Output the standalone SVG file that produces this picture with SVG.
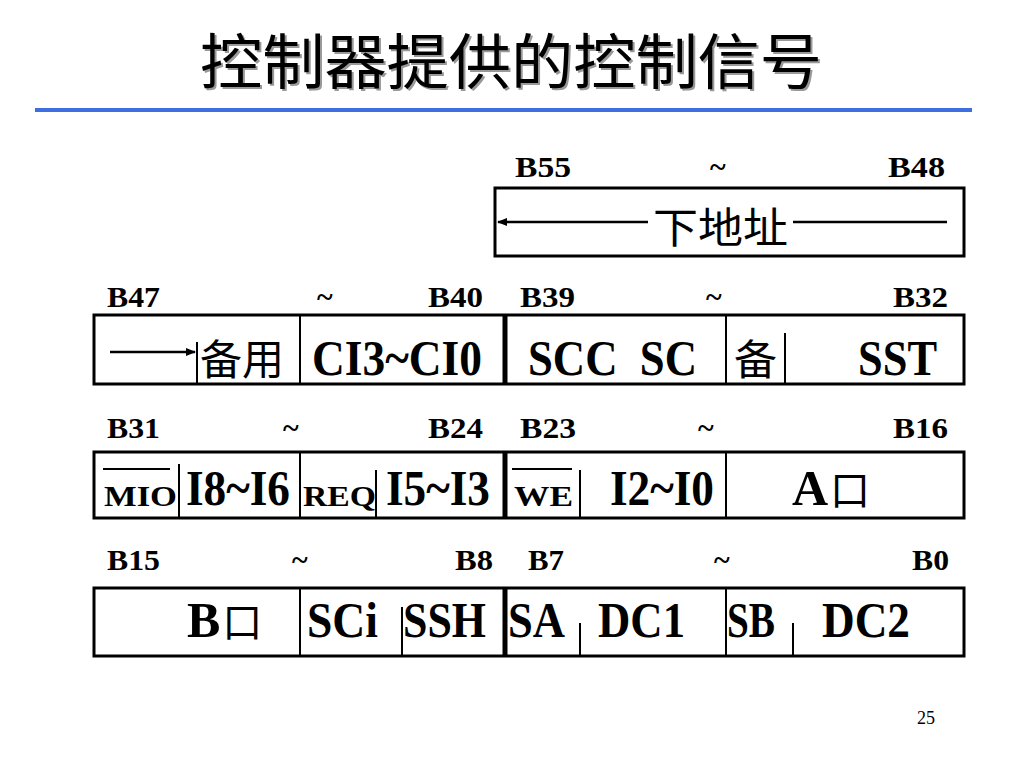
<svg xmlns="http://www.w3.org/2000/svg" width="1024" height="768" viewBox="0 0 1024 768">
<defs>
<style>
.title{font-family:"Noto Sans CJK SC","Noto Sans CJK TC",sans-serif;font-size:60px;}
.lbl{font-family:"Liberation Serif",serif;font-weight:bold;font-size:30px;fill:#000;}
.big{font-family:"Liberation Serif",serif;font-weight:bold;font-size:50px;fill:#000;white-space:pre;}
.sm{font-family:"Liberation Serif",serif;font-weight:bold;font-size:30px;fill:#000;}
.cjk{font-family:"Noto Sans CJK SC",sans-serif;font-size:42px;fill:#000;}
.cjkin{font-family:"Noto Sans CJK SC",sans-serif;font-weight:normal;font-size:40px;}
.box{fill:none;stroke:#000;stroke-width:3;}
.dv{stroke:#000;stroke-width:2;fill:none;}
.thick{stroke:#000;stroke-width:5;fill:none;}
.arr{stroke:#000;stroke-width:2.5;fill:none;}
.num{font-family:"Liberation Serif",serif;font-size:18px;fill:#000;}
</style>
<marker id="ah" viewBox="0 0 10 10" refX="9" refY="5" markerWidth="4" markerHeight="4" orient="auto-start-reverse" markerUnits="strokeWidth">
<path d="M0,1 L10,5 L0,9 z" fill="#000"/>
</marker>
</defs>
<rect width="1024" height="768" fill="#fff"/>

<g id="title">
<text class="title" x="202" y="86" fill="#999" textLength="622" lengthAdjust="spacingAndGlyphs">控制器提供的控制信号</text>
<text class="title" x="200" y="84" fill="#000" textLength="622" lengthAdjust="spacingAndGlyphs">控制器提供的控制信号</text>
<rect x="35" y="108" width="937" height="4" fill="#3f6fdf"/>
</g>

<g id="labels">
<text class="lbl" x="515" y="177" textLength="56" lengthAdjust="spacingAndGlyphs">B55</text>
<text class="lbl" x="710" y="177">~</text>
<text class="lbl" x="888" y="177" textLength="57" lengthAdjust="spacingAndGlyphs">B48</text>

<text class="lbl" x="107" y="307" textLength="53" lengthAdjust="spacingAndGlyphs">B47</text>
<text class="lbl" x="317" y="307">~</text>
<text class="lbl" x="428" y="307" textLength="55" lengthAdjust="spacingAndGlyphs">B40</text>
<text class="lbl" x="520" y="307" textLength="55" lengthAdjust="spacingAndGlyphs">B39</text>
<text class="lbl" x="706" y="307">~</text>
<text class="lbl" x="893" y="307" textLength="55" lengthAdjust="spacingAndGlyphs">B32</text>

<text class="lbl" x="107" y="438" textLength="53" lengthAdjust="spacingAndGlyphs">B31</text>
<text class="lbl" x="283" y="438">~</text>
<text class="lbl" x="428" y="438" textLength="55" lengthAdjust="spacingAndGlyphs">B24</text>
<text class="lbl" x="520" y="438" textLength="56" lengthAdjust="spacingAndGlyphs">B23</text>
<text class="lbl" x="698" y="438">~</text>
<text class="lbl" x="893" y="438" textLength="55" lengthAdjust="spacingAndGlyphs">B16</text>

<text class="lbl" x="107" y="570" textLength="53" lengthAdjust="spacingAndGlyphs">B15</text>
<text class="lbl" x="292" y="570">~</text>
<text class="lbl" x="455" y="570" textLength="38" lengthAdjust="spacingAndGlyphs">B8</text>
<text class="lbl" x="528" y="570" textLength="36" lengthAdjust="spacingAndGlyphs">B7</text>
<text class="lbl" x="714" y="570">~</text>
<text class="lbl" x="912" y="570" textLength="37" lengthAdjust="spacingAndGlyphs">B0</text>
</g>

<g id="next-address">
<rect class="box" x="495" y="188" width="469" height="68"/>
<text class="cjk" x="653" y="243" font-size="45" textLength="135" lengthAdjust="spacingAndGlyphs">下地址</text>
</g>

<g id="row1">
<rect class="box" x="94" y="315" width="870" height="69"/>
<g id="f-spare1">
<line class="dv" x1="197" y1="342" x2="197" y2="384"/>
<text class="cjk" x="200" y="375" textLength="84" lengthAdjust="spacingAndGlyphs">备用</text>
</g>
<g id="f-ci">
<line class="dv" x1="300" y1="315" x2="300" y2="384"/>
<text class="big" x="312" y="375" textLength="170" lengthAdjust="spacingAndGlyphs">CI3~CI0</text>
</g>
<line class="thick" x1="505" y1="315" x2="505" y2="384"/>
<g id="f-scc">
<text class="big" x="528" y="375" textLength="169" lengthAdjust="spacingAndGlyphs">SCC  SC</text>
</g>
<g id="f-spare2">
<line class="dv" x1="726" y1="315" x2="726" y2="384"/>
<text class="cjk" x="734" y="375" textLength="43" lengthAdjust="spacingAndGlyphs">备</text>
<line class="dv" x1="785" y1="333" x2="785" y2="384"/>
</g>
<g id="f-sst">
<text class="big" x="858" y="375" textLength="79" lengthAdjust="spacingAndGlyphs">SST</text>
</g>
</g>

<g id="row2">
<rect class="box" x="94" y="452" width="870" height="66"/>
<g id="f-mio">
<line x1="103" y1="469" x2="170" y2="469" stroke="#000" stroke-width="2"/>
<text class="sm" x="104" y="506" textLength="73" lengthAdjust="spacingAndGlyphs">MIO</text>
<line class="dv" x1="179" y1="464" x2="179" y2="518"/>
</g>
<g id="f-i86">
<text class="big" x="186" y="505" textLength="104" lengthAdjust="spacingAndGlyphs">I8~I6</text>
</g>
<line class="dv" x1="300" y1="452" x2="300" y2="518"/>
<g id="f-req">
<text class="sm" x="303" y="506" textLength="73" lengthAdjust="spacingAndGlyphs">REQ</text>
<line class="dv" x1="376" y1="470" x2="376" y2="518"/>
</g>
<g id="f-i53">
<text class="big" x="386" y="505" textLength="104" lengthAdjust="spacingAndGlyphs">I5~I3</text>
</g>
<line class="thick" x1="505" y1="452" x2="505" y2="518"/>
<g id="f-we">
<line x1="512" y1="469" x2="572" y2="469" stroke="#000" stroke-width="2"/>
<text class="sm" x="514" y="506" textLength="59" lengthAdjust="spacingAndGlyphs">WE</text>
<line class="dv" x1="580" y1="470" x2="580" y2="518"/>
</g>
<g id="f-i20">
<text class="big" x="610" y="505" textLength="104" lengthAdjust="spacingAndGlyphs">I2~I0</text>
</g>
<line class="dv" x1="726" y1="452" x2="726" y2="518"/>
<g id="f-a">
<text class="big" x="792" y="505" font-size="46">A<tspan class="cjkin" dx="2">口</tspan></text>
</g>
</g>

<g id="row3">
<rect class="box" x="94" y="588" width="870" height="68"/>
<g id="f-b">
<text class="big" x="187" y="637" font-size="46">B<tspan class="cjkin" dx="2">口</tspan></text>
</g>
<line class="dv" x1="300" y1="588" x2="300" y2="656"/>
<g id="f-sci">
<text class="big" x="307" y="637" textLength="71" lengthAdjust="spacingAndGlyphs">SCi</text>
</g>
<g id="f-ssh">
<line class="dv" x1="402" y1="607" x2="402" y2="656"/>
<text class="big" x="403" y="637" textLength="83" lengthAdjust="spacingAndGlyphs">SSH</text>
</g>
<line class="thick" x1="505" y1="588" x2="505" y2="656"/>
<g id="f-sa">
<text class="big" x="508" y="637" textLength="57" lengthAdjust="spacingAndGlyphs">SA</text>
<line class="dv" x1="580" y1="623" x2="580" y2="656"/>
</g>
<g id="f-dc1">
<text class="big" x="598" y="637" textLength="87" lengthAdjust="spacingAndGlyphs">DC1</text>
</g>
<line class="dv" x1="726" y1="588" x2="726" y2="656"/>
<g id="f-sb">
<text class="big" x="727" y="637" textLength="48" lengthAdjust="spacingAndGlyphs">SB</text>
<line class="dv" x1="793" y1="623" x2="793" y2="656"/>
</g>
<g id="f-dc2">
<text class="big" x="822" y="637" textLength="88" lengthAdjust="spacingAndGlyphs">DC2</text>
</g>
</g>

<g id="connectors">
<line class="arr" x1="648" y1="222" x2="498" y2="222" marker-end="url(#ah)"/>
<line class="arr" x1="793" y1="222" x2="947" y2="222"/>
<line class="arr" x1="110" y1="352" x2="195" y2="352" marker-end="url(#ah)"/>
</g>

<text class="num" x="917" y="724">25</text>
</svg>
